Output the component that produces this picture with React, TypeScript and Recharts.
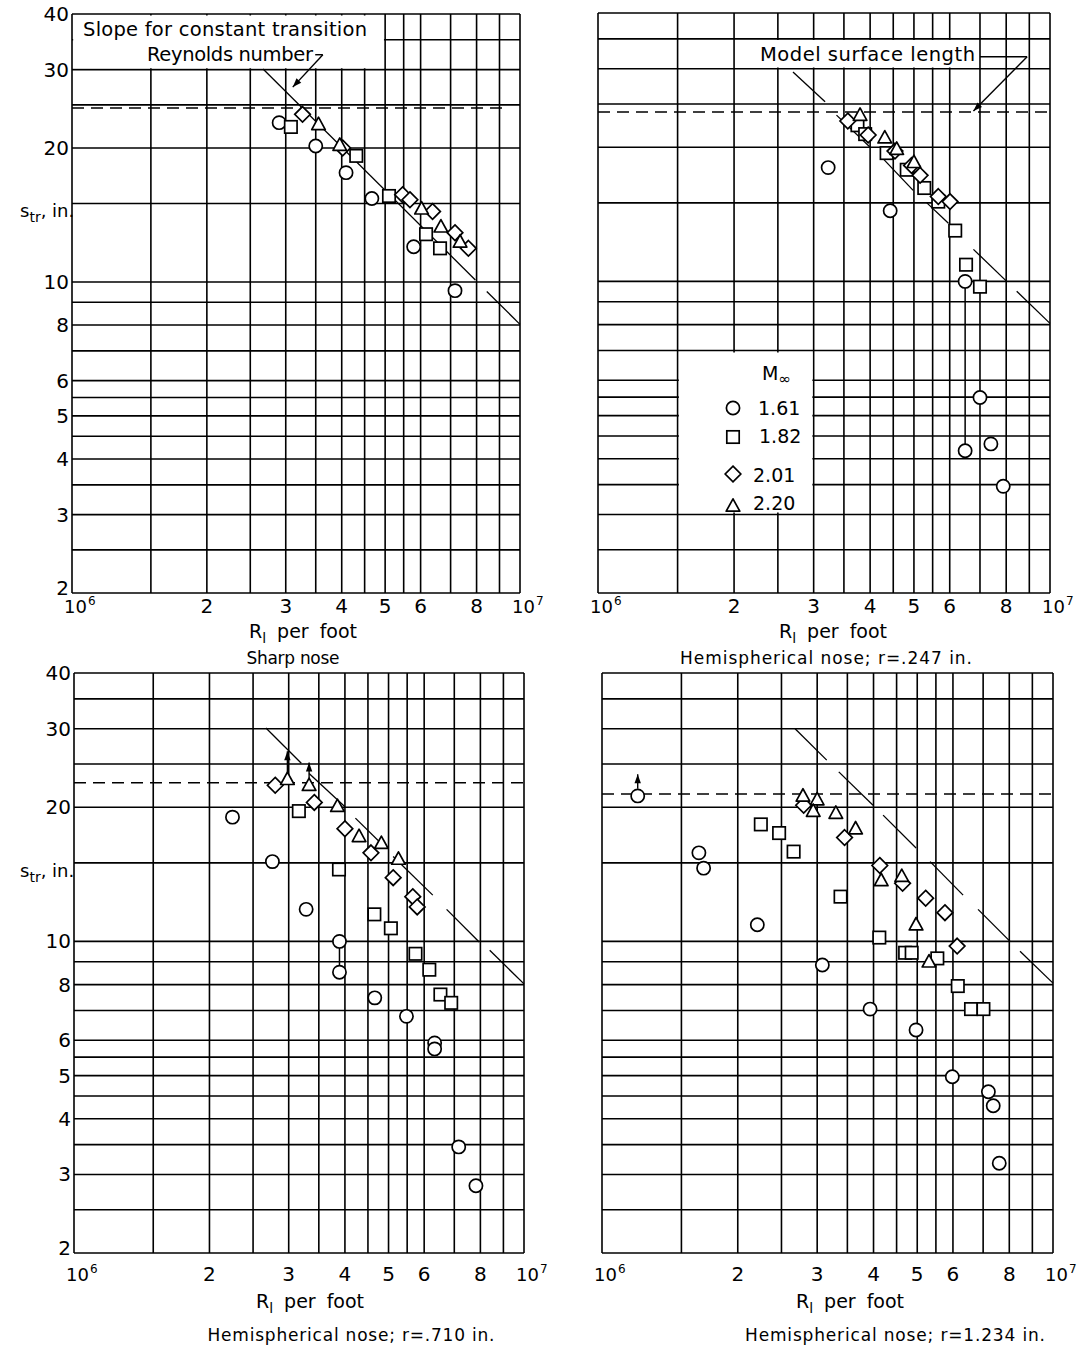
import React from 'react';
import { ScatterChart, Scatter, XAxis, YAxis, CartesianGrid, ReferenceLine, ReferenceArea } from 'recharts';

type P = [number, number];

const FONT = '"DejaVu Sans", sans-serif';

// axes (R in millions per foot, s_tr in inches)
const xTicks = [1, 2, 3, 4, 5, 6, 8, 10];
const yTicks = [2, 3, 4, 5, 6, 8, 10, 20, 30, 40];
const xGrid = [1, 1.5, 2, 2.5, 3, 3.5, 4, 4.5, 5, 5.5, 6, 7, 8, 9, 10];
const yGrid = [2, 2.5, 3, 3.5, 4, 4.5, 5, 5.5, 6, 7, 8, 9, 10, 15, 20, 25, 30, 35, 40];
const machNumbers = ['1.61', '1.82', '2.01', '2.20'];
const captions = ['Sharp nose', 'Hemispherical nose; r=.247 in.', 'Hemispherical nose; r=.710 in.', 'Hemispherical nose; r=1.234 in.'];

// Sharp nose
const tlCircles: P[] = [[2.9, 22.8], [3.5, 20.2], [4.09, 17.6], [4.67, 15.4], [5.79, 12.0], [7.16, 9.56]];
const tlSquares: P[] = [[3.08, 22.3], [4.31, 19.2], [5.1, 15.6], [6.17, 12.8], [6.63, 11.9]];
const tlDiamonds: P[] = [[3.27, 23.8], [4.02, 20.0], [5.47, 15.7], [5.68, 15.3], [6.38, 14.4], [7.16, 12.9], [7.67, 11.9]];
const tlTriangles: P[] = [[3.55, 22.6], [3.96, 20.3], [6.03, 14.6], [6.66, 13.3], [7.35, 12.3]];
const tlModelLength = 24.6;
const tlSlope: P[][] = [[[2.67, 30.1], [7.95, 10.1]], [[8.43, 9.52], [10, 8.03]]];

// r = .247 in.
const trCircles: P[] = [[3.23, 18.0], [4.43, 14.4], [6.49, 10.0], [7.0, 5.49], [6.49, 4.17], [7.4, 4.32], [7.88, 3.47]];
const trSquares: P[] = [[3.75, 22.4], [3.9, 21.4], [4.35, 19.4], [4.82, 17.8], [5.27, 16.2], [5.66, 15.1], [6.17, 13.0], [6.52, 10.9], [7.0, 9.73]];
const trDiamonds: P[] = [[3.57, 22.9], [3.96, 21.3], [4.54, 19.6], [4.94, 18.2], [5.16, 17.3], [5.66, 15.5], [6.01, 15.1]];
const trTriangles: P[] = [[3.8, 23.6], [4.31, 21.0], [4.58, 19.8], [5.0, 18.5]];
const trModelLength = 24.0;
const trSlope: P[][] = [
  [[2.7, 29.5], [3.18, 25.3]], [[3.37, 23.6], [4.0, 20.0]], [[4.24, 19.0], [4.98, 16.0]],
  [[5.34, 15.0], [5.96, 13.5]], [[6.77, 11.8], [8.02, 10.0]], [[8.44, 9.5], [10, 8.05]],
];
const trTies: P[][] = [[[6.49, 10.0], [6.49, 4.17]]];

// r = .710 in.
const blCircles: P[] = [[2.25, 19.0], [2.76, 15.1], [3.28, 11.8], [3.89, 10.0], [3.89, 8.53], [4.66, 7.47], [5.48, 6.79], [6.33, 5.92], [6.33, 5.74], [7.16, 3.46], [7.82, 2.83]];
const blSquares: P[] = [[3.16, 19.6], [3.88, 14.5], [4.65, 11.5], [5.06, 10.7], [5.74, 9.38], [6.16, 8.64], [6.52, 7.6], [6.89, 7.28]];
const blDiamonds: P[] = [[2.8, 22.4], [3.42, 20.5], [4.0, 17.9], [4.57, 15.8], [5.12, 13.9], [5.66, 12.6], [5.79, 11.95]];
const blTriangles: P[] = [[2.98, 23.1], [3.33, 22.4], [3.85, 20.1], [4.3, 17.2], [4.82, 16.6], [5.26, 15.3]];
const blModelLength = 22.7;
const blSlope: P[][] = [
  [[2.67, 30.1], [3.2, 25.1]], [[3.33, 23.8], [4.0, 20.05]], [[4.22, 18.9], [4.93, 16.2]],
  [[5.12, 15.5], [6.27, 12.7]], [[6.73, 11.8], [7.95, 9.97]], [[8.39, 9.55], [10, 8.03]],
];
const blTies: P[][] = [[[3.89, 10.0], [3.89, 8.53]]];
const blArrows: P[][] = [[[2.98, 23.9], [2.98, 26.7]], [[3.33, 23.2], [3.33, 25.2]]];

// r = 1.234 in.
const brCircles: P[] = [[1.2, 21.2], [1.64, 15.8], [1.68, 14.6], [2.21, 10.9], [3.08, 8.85], [3.93, 7.05], [4.97, 6.33], [5.98, 4.97], [7.19, 4.6], [7.37, 4.28], [7.6, 3.18]];
const brSquares: P[] = [[2.25, 18.3], [2.47, 17.5], [2.66, 15.9], [3.38, 12.6], [4.12, 10.2], [4.7, 9.43], [4.86, 9.43], [5.54, 9.16], [6.15, 7.94], [6.58, 7.05], [7.01, 7.05]];
const brDiamonds: P[] = [[2.8, 20.2], [3.45, 17.1], [4.13, 14.8], [4.64, 13.5], [5.22, 12.5], [5.76, 11.6], [6.13, 9.76]];
const brTriangles: P[] = [[2.79, 21.2], [3.0, 20.8], [2.94, 19.6], [3.3, 19.4], [3.65, 17.9], [4.16, 13.7], [4.62, 14.0], [4.97, 10.9], [5.31, 9.0]];
const brModelLength = 21.4;
const brSlope: P[][] = [
  [[2.68, 30.0], [3.15, 25.5]], [[3.35, 24.0], [3.99, 20.2]], [[4.2, 19.2], [4.97, 16.2]],
  [[5.34, 15.1], [6.32, 12.7]], [[6.82, 11.8], [8.03, 10.0]], [[8.45, 9.5], [10, 8.06]],
];
const brArrows: P[][] = [[[1.2, 22.0], [1.2, 23.7]]];

// annotation leaders
const tlLeader: P[] = [[3.49, 32.4], [3.63, 32.4]];
const tlLeaderArrow: P[] = [[3.63, 32.4], [3.11, 27.4]];
const trLeader: P[] = [[7.0, 31.9], [8.9, 31.9]];
const trLeaderArrow: P[] = [[8.9, 31.9], [6.77, 24.1]];

const toPts = (a: P[]) => a.map(([x, y]) => ({ x, y }));

const SW = 1.7;
const CircleM = (p: any) => <circle cx={p.cx} cy={p.cy} r={6.6} fill="#fff" stroke="#000" strokeWidth={SW} />;
const SquareM = (p: any) => <rect x={p.cx - 6.2} y={p.cy - 6.2} width={12.4} height={12.4} fill="#fff" stroke="#000" strokeWidth={SW} />;
const DiamondM = (p: any) => (
  <polygon points={`${p.cx},${p.cy - 7.8} ${p.cx + 7.8},${p.cy} ${p.cx},${p.cy + 7.8} ${p.cx - 7.8},${p.cy}`} fill="#fff" stroke="#000" strokeWidth={SW} />
);
const TriangleM = (p: any) => (
  <polygon points={`${p.cx},${p.cy - 7.2} ${p.cx + 6.8},${p.cy + 5.2} ${p.cx - 6.8},${p.cy + 5.2}`} fill="#fff" stroke="#000" strokeWidth={SW} strokeLinejoin="round" />
);

const ArrowLine = (p: any) => {
  const { x1, y1, x2, y2 } = p;
  const a = Math.atan2(y2 - y1, x2 - x1);
  const L = 9;
  const W = 3.2;
  const bx = x2 - L * Math.cos(a);
  const by = y2 - L * Math.sin(a);
  const px = -Math.sin(a) * W;
  const py = Math.cos(a) * W;
  return (
    <g>
      <line x1={x1} y1={y1} x2={x2} y2={y2} stroke="#000" strokeWidth={1.4} />
      <polygon points={`${x2},${y2} ${bx + px},${by + py} ${bx - px},${by - py}`} fill="#000" />
    </g>
  );
};

const XTick = (props: any) => {
  const { x, y, payload, base } = props;
  const v = payload.value;
  if (v === 1 || v === 10) {
    return (
      <text x={x - 8} y={y + base} fontSize={18} fontFamily={FONT} fill="#000">
        10<tspan dx={1} dy={-8} fontSize={12}>{v === 1 ? '6' : '7'}</tspan>
      </text>
    );
  }
  return (
    <text x={x} y={y + base} textAnchor="middle" fontSize={20} fontFamily={FONT} fill="#000">{v}</text>
  );
};

const YTick = (props: any) => {
  const { x, y, payload } = props;
  const lift = payload.value === 2 ? 5 : 0;
  return (
    <text x={x - 3} y={y + 7 - lift} textAnchor="end" fontSize={20} fontFamily={FONT} fill="#000">{payload.value}</text>
  );
};

const NoTick = () => <g />;

const XTitle = (props: any) => {
  const { tx, ty, cx, cy, cw, cap } = props;
  return (
    <g>
      <text x={tx} y={ty} textAnchor="middle" fontSize={19} fontFamily={FONT} fill="#000" wordSpacing={5}>
        R<tspan dy={5} fontSize={14}>l</tspan><tspan dy={-5}> per foot</tspan>
      </text>
      <text x={cx} y={cy} textAnchor="middle" fontSize={17} fontFamily={FONT} fill="#000" textLength={cw} lengthAdjust="spacing">{cap}</text>
    </g>
  );
};

const YTitle = (props: any) => {
  const { ty } = props;
  return (
    <text x={20} y={ty} fontSize={18} fontFamily={FONT} fill="#000">
      s<tspan dy={5} fontSize={14}>tr</tspan><tspan dy={-5}>, in.</tspan>
    </text>
  );
};

const TLNote = () => (
  <g>
    <text x={83} y={36} fontSize={19.5} fontFamily={FONT} fill="#000" textLength={284} lengthAdjust="spacing">Slope for constant transition</text>
    <text x={147} y={61} fontSize={19.5} fontFamily={FONT} fill="#000" textLength={166} lengthAdjust="spacing">Reynolds number</text>
  </g>
);

const TRNote = () => (
  <text x={215} y={61} fontSize={19.5} fontFamily={FONT} fill="#000" textLength={215} lengthAdjust="spacing">Model surface length</text>
);

const LegendBox = () => {
  const ox = 678 - 545;
  const oy = 350;
  const marks = [CircleM, SquareM, DiamondM, TriangleM];
  const my = [58, 87, 124, 156];
  const lx = [80, 81, 75, 75];
  const ly = [65, 93, 132, 160];
  return (
    <g>
      <text x={ox + 84} y={oy + 30} fontSize={19} fontFamily={FONT} fill="#000">
        M<tspan dy={4} fontSize={15}>∞</tspan>
      </text>
      {machNumbers.map((m, i) => {
        const Mk = marks[i];
        return (
          <g key={m}>
            <Mk cx={ox + 55} cy={oy + my[i]} />
            <text x={ox + lx[i]} y={oy + ly[i]} fontSize={19} fontFamily={FONT} fill="#000">{m}</text>
          </g>
        );
      })}
    </g>
  );
};

type Cfg = {
  id: string; left: number; top: number; w: number; h: number;
  pl: number; pr: number; pt: number; pb: number; base: number; showY: boolean;
  tx: number; ty: number; cx: number; cy: number; cw: number; cap: string; yty: number;
  circles: P[]; squares: P[]; diamonds: P[]; triangles: P[];
  model: number; modelEnd: number; slope: P[][]; ties?: P[][]; arrows?: P[][];
};

const panels: Cfg[] = [
  { id: 'tl', left: 0, top: 0, w: 560, h: 672, pl: 72, pr: 520, pt: 14, pb: 593, base: 20, showY: true,
    tx: 303, ty: 638, cx: 293, cy: 664, cw: 93, cap: captions[0], yty: 217,
    circles: tlCircles, squares: tlSquares, diamonds: tlDiamonds, triangles: tlTriangles,
    model: tlModelLength, modelEnd: 9.34, slope: tlSlope },
  { id: 'tr', left: 545, top: 0, w: 540, h: 672, pl: 53, pr: 505, pt: 13, pb: 593, base: 20, showY: false,
    tx: 288, ty: 638, cx: 281, cy: 664, cw: 292, cap: captions[1], yty: 217,
    circles: trCircles, squares: trSquares, diamonds: trDiamonds, triangles: trTriangles,
    model: trModelLength, modelEnd: 10, slope: trSlope, ties: trTies },
  { id: 'bl', left: 0, top: 650, w: 560, h: 699, pl: 74, pr: 524, pt: 23, pb: 603, base: 28, showY: true,
    tx: 310, ty: 658, cx: 351, cy: 691, cw: 287, cap: captions[2], yty: 227,
    circles: blCircles, squares: blSquares, diamonds: blDiamonds, triangles: blTriangles,
    model: blModelLength, modelEnd: 10, slope: blSlope, ties: blTies, arrows: blArrows },
  { id: 'br', left: 545, top: 650, w: 540, h: 699, pl: 57, pr: 508, pt: 23, pb: 603, base: 28, showY: false,
    tx: 305, ty: 658, cx: 350, cy: 691, cw: 300, cap: captions[3], yty: 227,
    circles: brCircles, squares: brSquares, diamonds: brDiamonds, triangles: brTriangles,
    model: brModelLength, modelEnd: 10, slope: brSlope, arrows: brArrows },
];

const seg = (s: P[]) => s.map(([x, y]) => ({ x, y })) as any;

function Panel({ c }: { c: Cfg }) {
  return (
    <div style={{ position: 'absolute', left: c.left, top: c.top, width: c.w, height: c.h }}>
      <ScatterChart width={c.w} height={c.h} margin={{ top: c.pt, right: c.w - c.pr, bottom: 0, left: 0 }}>
        <CartesianGrid horizontalValues={yGrid} verticalValues={xGrid} stroke="#000" strokeWidth={1.6} fill="none" />
        <XAxis
          type="number" dataKey="x" scale="log" domain={[1, 10]} ticks={xTicks} interval={0} allowDataOverflow
          axisLine={false} tickLine={false} tickSize={0} tickMargin={0} height={c.h - c.pb}
          tick={<XTick base={c.base} />}
          label={<XTitle tx={c.tx} ty={c.ty} cx={c.cx} cy={c.cy} cw={c.cw} cap={c.cap} />}
        />
        <YAxis
          type="number" dataKey="y" scale="log" domain={[2, 40]} ticks={yTicks} interval={0} allowDataOverflow
          axisLine={false} tickLine={false} tickSize={0} tickMargin={0} width={c.pl}
          tick={c.showY ? <YTick /> : <NoTick />}
          label={c.showY ? <YTitle ty={c.yty} /> : undefined}
        />
        {c.id === 'tl' && (
          <ReferenceArea x1={1.006} x2={4.97} y1={30.2} y2={39.7} fill="#fff" fillOpacity={1} stroke="none" ifOverflow="visible" label={<TLNote />} />
        )}
        {c.id === 'tr' && (
          <ReferenceArea x1={2.25} x2={6.9} y1={30.2} y2={34.8} fill="#fff" fillOpacity={1} stroke="none" ifOverflow="visible" label={<TRNote />} />
        )}
        {c.id === 'tr' && (
          <ReferenceArea x1={1.51} x2={2.98} y1={3.03} y2={6.93} fill="#fff" fillOpacity={1} stroke="none" ifOverflow="visible" label={<LegendBox />} />
        )}
        <ReferenceLine segment={seg([[1, c.model], [c.modelEnd, c.model]])} stroke="#000" strokeWidth={1.5} strokeDasharray="12 7" ifOverflow="visible" />
        {c.slope.map((s, i) => (
          <ReferenceLine key={'s' + i} segment={seg(s)} stroke="#000" strokeWidth={1.3} ifOverflow="visible" />
        ))}
        {(c.ties || []).map((s, i) => (
          <ReferenceLine key={'t' + i} segment={seg(s)} stroke="#000" strokeWidth={1.5} ifOverflow="visible" />
        ))}
        {(c.arrows || []).map((s, i) => (
          <ReferenceLine key={'a' + i} segment={seg(s)} shape={ArrowLine} ifOverflow="visible" />
        ))}
        {c.id === 'tl' && <ReferenceLine segment={seg(tlLeader)} stroke="#000" strokeWidth={1.4} ifOverflow="visible" />}
        {c.id === 'tl' && <ReferenceLine segment={seg(tlLeaderArrow)} shape={ArrowLine} ifOverflow="visible" />}
        {c.id === 'tr' && <ReferenceLine segment={seg(trLeader)} stroke="#000" strokeWidth={1.4} ifOverflow="visible" />}
        {c.id === 'tr' && <ReferenceLine segment={seg(trLeaderArrow)} shape={ArrowLine} ifOverflow="visible" />}
        <Scatter name="1.61" data={toPts(c.circles)} shape={CircleM} isAnimationActive={false} />
        <Scatter name="1.82" data={toPts(c.squares)} shape={SquareM} isAnimationActive={false} />
        <Scatter name="2.01" data={toPts(c.diamonds)} shape={DiamondM} isAnimationActive={false} />
        <Scatter name="2.20" data={toPts(c.triangles)} shape={TriangleM} isAnimationActive={false} />
      </ScatterChart>
    </div>
  );
}

export default function App() {
  return (
    <div style={{ position: 'absolute', left: 0, top: 0, width: 1085, height: 1349, background: '#fff', overflow: 'hidden', fontFamily: FONT }}>
      {panels.map((c) => (
        <Panel key={c.id} c={c} />
      ))}
    </div>
  );
}
